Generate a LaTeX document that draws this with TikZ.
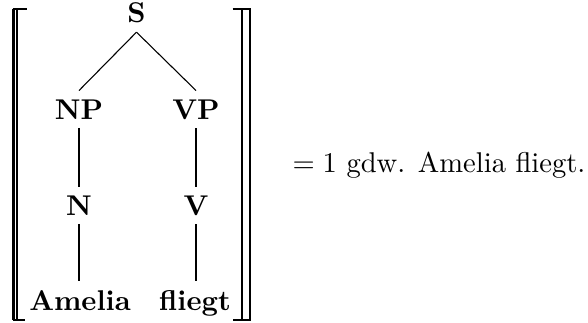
\documentclass[tikz,border=0pt]{standalone}
\begin{document}
\begin{tikzpicture}[x=0.35pt,y=-0.35pt,
  cat/.style={font=\bfseries, anchor=base, inner sep=2.9pt},
  edge/.style={line width=0.38pt},
  thickbar/.style={line width=0.72pt},
  thinbar/.style={line width=0.38pt}]
\useasboundingbox (0,0) rectangle (588,322);
% tree nodes
\node[cat] (S) at (136.5,23) {S};
\node[cat] (NP) at (79,119) {NP};
\node[cat] (VP) at (196,119) {VP};
\node[cat] (N) at (79,215) {N};
\node[cat] (V) at (196,215) {V};
\node[cat] (Am) at (80,310) {Amelia};
\node[cat] (fl) at (195,310) {fliegt};
% edges
\draw[edge] (S.south) -- (NP.north);
\draw[edge] (S.south) -- (VP.north);
\draw[edge] (NP.south) -- (N.north);
\draw[edge] (VP.south) -- (V.north);
\draw[edge] (N.south) -- (Am.north-|N.south);
\draw[edge] (V.south) -- (fl.north-|V.south);
% left double bracket
\draw[thickbar] (13.5,9) -- (13.5,320);
\draw[thinbar] (17,9) -- (17,320);
\draw[thickbar] (12.5,9) -- (27,9);
\draw[thickbar] (12.5,320) -- (25,320);
% right double bracket
\draw[thinbar] (242,9) -- (242,320);
\draw[thickbar] (250,9) -- (250,320);
\draw[thickbar] (232.5,9) -- (251,9);
\draw[thickbar] (233,320) -- (251,320);
% right text
\node[anchor=base west, inner sep=0pt] (txt) at (292,172) {$=1$ gdw. Amelia fliegt.};
\end{tikzpicture}
\end{document}
